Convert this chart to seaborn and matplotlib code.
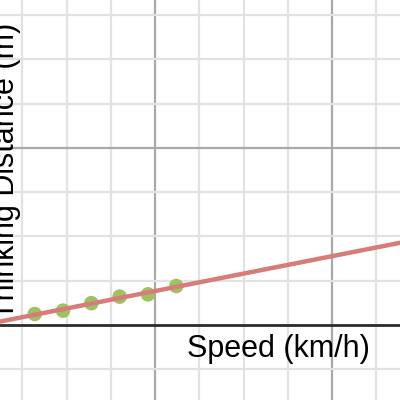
import numpy as np
import pandas as pd
import matplotlib
matplotlib.use("Agg")
import matplotlib.pyplot as plt
import seaborn as sns

# data
speed_kmh = [32, 48, 64, 80, 96, 112]
thinking_m = [6.2, 8.1, 12.3, 16.0, 17.3, 22.0]

df = pd.DataFrame({"speed": speed_kmh, "thinking": thinking_m})

sns.set_theme(style="white")
plt.rcParams["font.family"] = ["Liberation Sans", "DejaVu Sans"]

fig = plt.figure(figsize=(4, 4), dpi=100)
ax = fig.add_axes([0, 0, 1, 1])

XLIM = (12.4, 238.4)
YLIM = (-42.4, 183.6)
ax.set_xlim(*XLIM)
ax.set_ylim(*YLIM)

# graph-paper grid: minor every 25, major every 100
for v in np.arange(25, 250, 25):
    major = v % 100 == 0
    ax.axvline(v, color="#a9a9a9" if major else "#e2e2e2", lw=1.6, zorder=0)
for v in np.arange(-25, 200, 25):
    if v == 0:
        continue
    major = v % 100 == 0
    ax.axhline(v, color="#a9a9a9" if major else "#e2e2e2", lw=1.6, zorder=0)
ax.axhline(0, color="#2b2b2b", lw=2, zorder=1)

sns.scatterplot(data=df, x="speed", y="thinking", ax=ax, s=110,
                color="#9dc262", edgecolor="none", zorder=3, legend=False)
sns.regplot(data=df, x="speed", y="thinking", ax=ax, scatter=False,
            ci=None, truncate=False,
            line_kws={"color": "#d77c79", "lw": 3.2, "zorder": 4})

ax.set_xlim(*XLIM)
ax.set_ylim(*YLIM)
ax.set_xlabel("")
ax.set_ylabel("")
ax.set_xticks([])
ax.set_yticks([])
for s in ax.spines.values():
    s.set_visible(False)

ax.text(0.925, 0.128, "Speed (km/h)", transform=ax.transAxes, ha="right",
        va="center", fontsize=22, color="black")
ax.text(0.016, 0.572, "Thinking Distance (m)", transform=ax.transAxes,
        ha="center", va="center", rotation=90, fontsize=22, color="black")

fig.savefig("out.png", dpi=100)
